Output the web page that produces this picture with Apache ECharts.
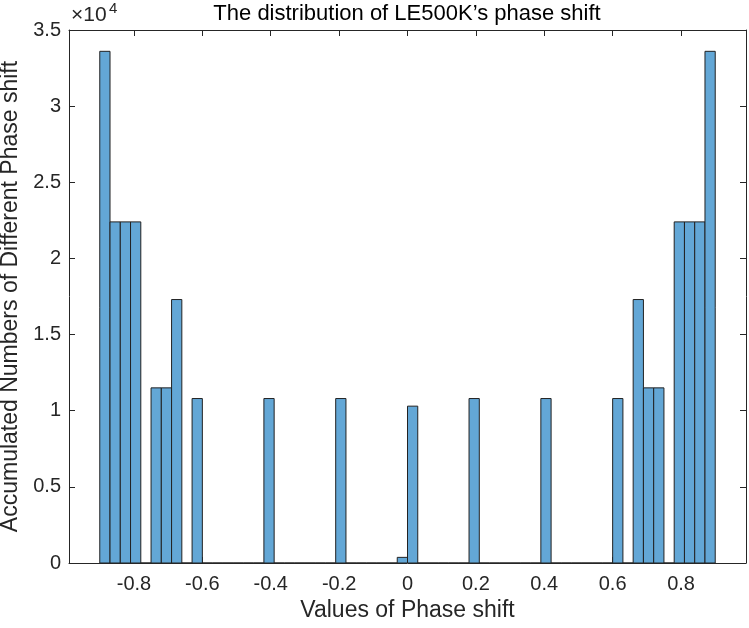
<!DOCTYPE html>
<html>
<head>
<meta charset="utf-8">
<script src="https://cdn.jsdelivr.net/npm/echarts@6/dist/echarts.min.js"></script>
<style>
html,body{margin:0;padding:0;background:#fff;}
#chart{width:749px;height:628px;}
</style>
</head>
<body>
<div id="chart"></div>
<script>
// Histogram definition: 60 bins of width 0.03 starting at -0.9
const binStart = -0.9;
const binWidth = 0.03;
const counts = [
  33600, 22400, 22400, 22400, 0, 11500, 11500, 17300, 0, 10800,
  0, 0, 0, 0, 0, 0, 10800, 0, 0, 0,
  0, 0, 0, 10800, 0, 0, 0, 0, 0, 370,
  10300, 0, 0, 0, 0, 0, 10800, 0, 0, 0,
  0, 0, 0, 10800, 0, 0, 0, 0, 0, 0,
  10800, 0, 17300, 11500, 11500, 0, 22400, 22400, 22400, 33600
];
const xTicks = [-0.8, -0.6, -0.4, -0.2, 0, 0.2, 0.4, 0.6, 0.8];
const yTicks = [0, 5000, 10000, 15000, 20000, 25000, 30000, 35000];
const xRange = [-0.99, 0.99];

const bins = counts.map((c, i) => [binStart + i * binWidth, binStart + (i + 1) * binWidth, c]);

const FONT = 'Liberation Sans, Arial, Helvetica, sans-serif';
const AX = '#262626';

const chart = echarts.init(document.getElementById('chart'));
const xCommon = {
  type: 'value', min: xRange[0], max: xRange[1],
  axisLine: { show: true, onZero: false, lineStyle: { color: AX, width: 1 } },
  splitLine: { show: false },
  axisTick: { show: true, inside: true, length: 6, customValues: xTicks, lineStyle: { color: AX } }
};
const yCommon = {
  type: 'value', min: yTicks[0], max: yTicks[yTicks.length - 1], interval: 5000,
  axisLine: { show: true, onZero: false, lineStyle: { color: AX, width: 1 } },
  splitLine: { show: false },
  axisTick: { show: true, inside: true, length: 6, lineStyle: { color: AX } }
};
chart.setOption({
  animation: false,
  backgroundColor: '#fff',
  title: {
    text: 'The distribution of LE500K\u2019s phase shift',
    left: 407, top: 3, padding: 0, textAlign: 'center',
    textStyle: { fontFamily: FONT, fontSize: 22, fontWeight: 'normal', color: '#000' }
  },
  graphic: [
    { type: 'text', left: 71, top: 5, style: { text: '\u00d710', fontFamily: FONT, fontSize: 21, fill: AX } },
    { type: 'text', left: 109, top: 1, style: { text: '4', fontFamily: FONT, fontSize: 15, fill: AX } }
  ],
  grid: { left: 69, right: 3, top: 30, bottom: 65, containLabel: false, outerBoundsMode: 'none' },
  xAxis: [
    Object.assign({}, xCommon, {
      position: 'bottom',
      name: 'Values of Phase shift', nameLocation: 'middle', nameGap: 32,
      nameTextStyle: { fontFamily: FONT, fontSize: 23, color: AX },
      axisLabel: { show: true, customValues: xTicks, margin: 11, fontFamily: FONT, fontSize: 20, color: AX,
        formatter: v => String(Math.round(v * 10) / 10) }
    }),
    Object.assign({}, xCommon, { position: 'top', axisLabel: { show: false } })
  ],
  yAxis: [
    Object.assign({}, yCommon, {
      position: 'left',
      name: 'Accumulated Numbers of Different Phase shift', nameLocation: 'middle', nameGap: 41,
      nameTextStyle: { fontFamily: FONT, fontSize: 23, color: AX },
      axisLabel: { show: true, margin: 8, fontFamily: FONT, fontSize: 20, color: AX,
        formatter: v => String(v / 10000) }
    }),
    Object.assign({}, yCommon, { position: 'right', axisLabel: { show: false } })
  ],
  series: [{
    type: 'custom',
    xAxisIndex: 0, yAxisIndex: 0,
    data: bins,
    encode: { x: [0, 1], y: 2 },
    clip: true,
    renderItem: function (params, api) {
      const p0 = api.coord([api.value(0), api.value(2)]);
      const p1 = api.coord([api.value(1), 0]);
      return {
        type: 'rect',
        shape: { x: p0[0], y: p0[1], width: p1[0] - p0[0], height: p1[1] - p0[1] },
        style: { fill: 'rgb(99,167,214)', stroke: '#222', lineWidth: 1 }
      };
    }
  }]
});
</script>
</body>
</html>
